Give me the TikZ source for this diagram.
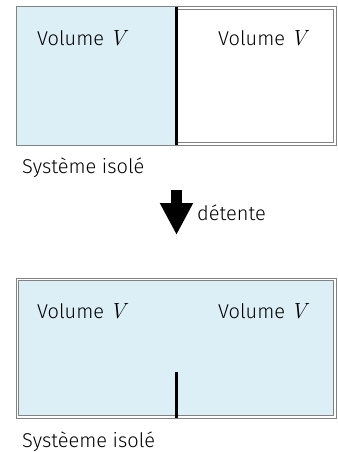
\documentclass[tikz,border=0pt]{standalone}
\usepackage{fontspec}
\setmainfont{Fira Sans}[UprightFont=* Light]
\newfontfamily\lmfont{Latin Modern Roman}
\newcommand{\volV}{{\lmfont\itshape\fontsize{22}{24}\selectfont V}}
\usetikzlibrary{arrows.meta}
\definecolor{gasblue}{RGB}{220,239,246}
\definecolor{wallgray}{RGB}{130,130,130}
\tikzset{
  lbl/.style={anchor=base west, inner sep=0pt, font=\fontsize{20}{24}\selectfont},
  outerwall/.style={draw=wallgray, line width=1pt},
  innerwall/.style={draw=wallgray, line width=0.8pt},
  partition/.style={draw=black, line width=3pt},
  bigarrow/.style={line width=11pt, -{Triangle[width=31pt,length=32pt]}}
}
\begin{document}
\begin{tikzpicture}[x=1pt,y=-1pt]
\useasboundingbox (0,0) rectangle (337,452);

% --- before: gas in the left half only
\draw[outerwall] (16,7) rectangle (336,145);
\draw[innerwall] (18.5,9.5) rectangle (333.5,142.5);
\fill[gasblue] (16.5,7.5) rectangle (175,144.5);
\coordinate (wtop) at (176.5,7);
\coordinate (wbot) at (176.5,145);
\draw[partition] (wtop) -- (wbot);
\node[lbl] (v1) at (37,46) {Volume \volV};
\node[lbl] (v2) at (218,46) {Volume \volV};
\node[lbl] (s1) at (22,173) {Système isolé};

% --- expansion
\coordinate (arrs) at (176.5,190);
\coordinate (arre) at (176.5,235);
\draw[bigarrow] (arrs) -- (arre);
\node[lbl] (det) at (197,220) {détente};

% --- after: gas fills both halves
\draw[outerwall] (16,278) rectangle (336,418);
\fill[gasblue] (18.5,280.5) rectangle (333.5,415.5);
\draw[innerwall] (18.5,280.5) rectangle (333.5,415.5);
\coordinate (ptop) at (176,372);
\coordinate (pbot) at (176,418);
\draw[partition] (ptop) -- (pbot);
\node[lbl] (v3) at (37,318) {Volume \volV};
\node[lbl] (v4) at (218,318) {Volume \volV};
\node[lbl] (s2) at (22,447) {Systèeme isolé};
\end{tikzpicture}
\end{document}
